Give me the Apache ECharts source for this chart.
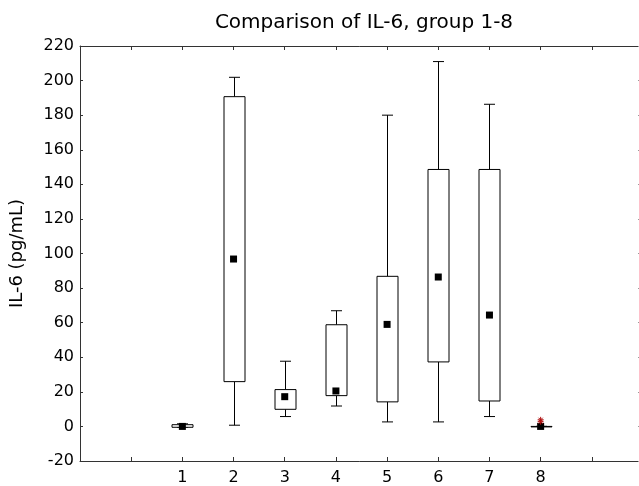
<!DOCTYPE html>
<html>
<head>
<meta charset="utf-8">
<script src="https://cdn.jsdelivr.net/npm/echarts@6/dist/echarts.min.js"></script>
<style>
  html, body { margin: 0; padding: 0; background: #fff; }
  #chart { width: 639px; height: 486px; }
</style>
</head>
<body>
<div id="chart"></div>
<script>
// groups 1-8, values (pg/mL)
const groups = [1, 2, 3, 4, 5, 6, 7, 8]
const whiskerLow = [-0.5, 0.7, 5.7, 11.8, 2.6, 2.6, 5.7, 0]
const boxLow = [-0.5, 25.9, 9.9, 17.8, 14.2, 37.3, 14.7, 0]
const boxHigh = [1, 190.7, 21.3, 58.8, 86.8, 148.6, 148.6, 0]
const whiskerHigh = [1.5, 201.9, 37.7, 66.9, 180, 211, 186.3, 0]
const means = [0, 96.8, 17.2, 20.5, 59, 86.4, 64.4, 0]
// outliers of group 8 (red asterisks)
const outlierX = [8, 8]
const outlierY = [2.7, 3.8]

const yTicks = { min: -20, max: 220, step: 20 }

const font = 'DejaVu Sans'
const chart = echarts.init(document.getElementById('chart'))

const boxData = groups.map((g, i) => [g, whiskerLow[i], boxLow[i], boxHigh[i], whiskerHigh[i]])
const meanData = groups.map((g, i) => [g, means[i]])
const outlierData = outlierX.map((x, i) => [x, outlierY[i]])

const renderBox = (params, api) => {
  const x = api.value(0)
  const lo = api.coord([x, api.value(1)])
  const q1 = api.coord([x, api.value(2)])
  const q3 = api.coord([x, api.value(3)])
  const hi = api.coord([x, api.value(4)])
  const cx = Math.round(q3[0]) + 0.5
  const bw = 21, cw = 11
  const st = { stroke: '#000', lineWidth: 1, fill: null }
  return {
    type: 'group',
    children: [
      { type: 'line', shape: { x1: cx, y1: hi[1], x2: cx, y2: q3[1] }, style: st },
      { type: 'line', shape: { x1: cx, y1: q1[1], x2: cx, y2: lo[1] }, style: st },
      { type: 'line', shape: { x1: cx - cw / 2, y1: hi[1], x2: cx + cw / 2, y2: hi[1] }, style: st },
      { type: 'line', shape: { x1: cx - cw / 2, y1: lo[1], x2: cx + cw / 2, y2: lo[1] }, style: st },
      {
        type: 'rect',
        shape: { x: cx - bw / 2, y: q3[1], width: bw, height: Math.max(q1[1] - q3[1], 0.5) },
        style: { stroke: '#000', lineWidth: 1, fill: '#fff' }
      }
    ]
  }
}

const frameLine = { onZero: false, lineStyle: { color: '#333', width: 1 } }

const option = {
  animation: false,
  backgroundColor: '#fff',
  title: {
    text: 'Comparison of IL-6, group 1-8',
    left: 359,
    textAlign: 'center',
    top: 8,
    textStyle: { fontFamily: font, fontSize: 20, fontWeight: 'normal', color: '#000' }
  },
  // plot runs off the right edge of the picture, as in the reference
  grid: { left: 80, width: 563, top: 46, bottom: 25, outerBoundsMode: 'none' },
  xAxis: [
    {
      type: 'value',
      min: -1,
      max: 10,
      interval: 1,
      axisLine: frameLine,
      axisTick: { inside: true, length: 4, lineStyle: { color: '#333' } },
      axisLabel: {
        margin: 9,
        fontFamily: font,
        fontSize: 16,
        color: '#000',
        formatter: v => (v >= 1 && v <= 8 ? String(v) : '')
      },
      splitLine: { show: false }
    },
    {
      type: 'value',
      position: 'top',
      min: -1,
      max: 10,
      interval: 1,
      axisLine: frameLine,
      axisTick: { inside: true, length: 4, lineStyle: { color: '#333' } },
      axisLabel: { show: false },
      splitLine: { show: false }
    }
  ],
  yAxis: [
    {
      type: 'value',
      min: yTicks.min,
      max: yTicks.max,
      interval: yTicks.step,
      name: 'IL-6 (pg/mL)',
      nameLocation: 'middle',
      nameGap: 54,
      nameTextStyle: { fontFamily: font, fontSize: 18, color: '#000' },
      axisLine: { show: true, onZero: false, lineStyle: { color: '#333', width: 1 } },
      axisTick: { show: true, inside: true, length: 3, lineStyle: { color: '#333' } },
      axisLabel: { margin: 6, fontFamily: font, fontSize: 16, color: '#000' },
      splitLine: { show: false }
    },
    {
      type: 'value',
      position: 'right',
      min: yTicks.min,
      max: yTicks.max,
      interval: yTicks.step,
      axisLine: { show: true, onZero: false, lineStyle: { color: '#333', width: 1 } },
      axisTick: { show: true, inside: true, length: 5, lineStyle: { color: '#999' } },
      axisLabel: { show: false },
      splitLine: { show: false }
    }
  ],
  series: [
    {
      type: 'custom',
      renderItem: renderBox,
      data: boxData,
      encode: { x: 0, y: [1, 2, 3, 4] },
      z: 2
    },
    {
      type: 'scatter',
      data: meanData,
      symbol: 'rect',
      symbolSize: 7,
      itemStyle: { color: '#000', opacity: 1 },
      z: 3
    },
    {
      type: 'scatter',
      data: outlierData,
      symbol: 'path://M5,0V10M0,5H10M1.5,1.5L8.5,8.5M8.5,1.5L1.5,8.5',
      symbolSize: 6,
      itemStyle: { color: 'none', borderColor: '#b01010', borderWidth: 1, opacity: 1 },
      z: 4
    }
  ]
}

chart.setOption(option)
</script>
</body>
</html>
